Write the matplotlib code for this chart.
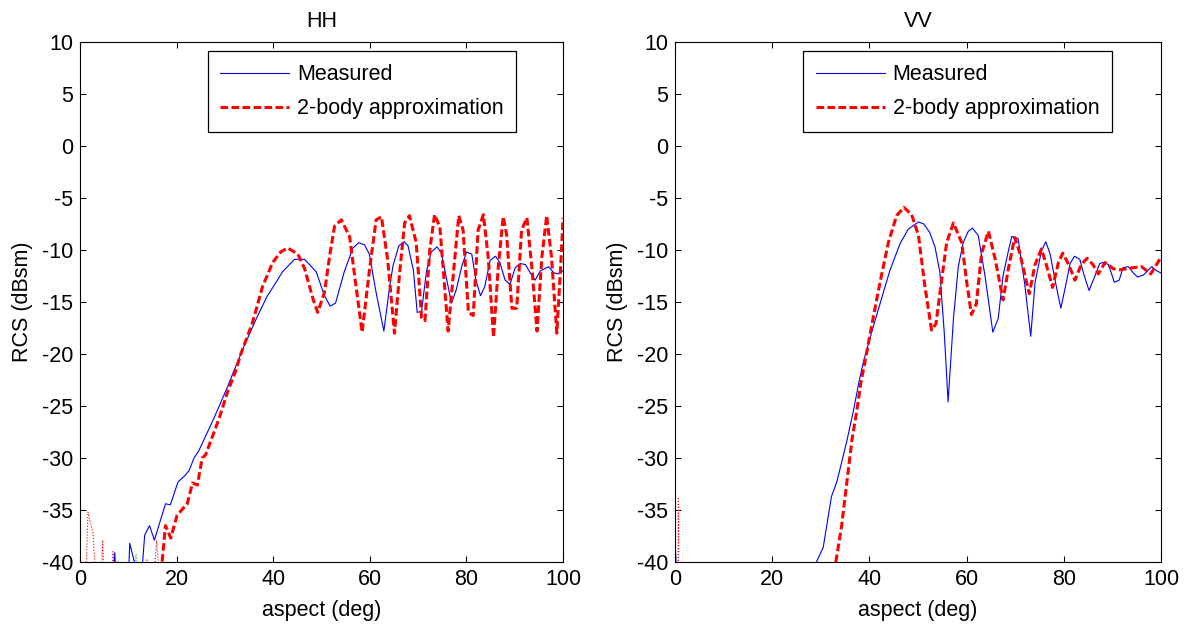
import numpy as np
import matplotlib
matplotlib.use("Agg")
import matplotlib.pyplot as plt

plt.rcParams["font.family"] = ["Liberation Sans", "DejaVu Sans"]
plt.rcParams["axes.unicode_minus"] = False

# ---- HH data ----
HH_MEAS_DEG = [6.9, 7.2, 7.5, 10.0, 10.3, 11.8, 12.8, 13.4, 14.4, 15.4, 17.7, 18.7,
               20.3, 21.7, 22.6, 23.6, 24.6, 26.0, 27.7, 30.5, 31.7, 34.0, 36.8,
               38.8, 40.6, 41.9, 44.4, 46.5, 48.9, 50.6, 51.8, 52.9, 54.7, 56.5,
               57.7, 58.9, 59.9, 61.3, 62.9, 64.1, 64.8, 66.0, 67.1, 67.9, 69.0,
               69.8, 70.7, 71.7, 72.7, 73.9, 74.8, 75.5, 76.9, 77.9, 79.0, 80.0,
               81.1, 81.9, 82.9, 83.8, 84.9, 86.0, 86.9, 88.0, 89.0, 90.1, 91.1,
               92.2, 93.2, 94.2, 95.3, 97.0, 98.1, 99.1, 100.0]
HH_MEAS_DB = [-42, -39.1, -42, -42, -38.2, -41, -41, -37.4, -36.5, -37.9, -34.4, -34.5,
              -32.3, -31.7, -31.2, -30.0, -29.3, -27.9, -26.2, -23.2, -21.8, -19.2, -16.3,
              -14.4, -13.1, -12.1, -10.9, -10.9, -12.1, -14.4, -15.4, -15.1, -12.1, -9.8,
              -9.3, -9.5, -10.4, -14.1, -17.8, -13.5, -11.5, -9.6, -9.2, -9.6, -11.9,
              -16.0, -15.9, -12.1, -10.2, -9.7, -10.3, -11.9, -15.1, -13.8, -11.6, -10.2,
              -10.4, -12.8, -14.4, -13.5, -11.0, -10.6, -11.2, -12.9, -13.3, -11.7, -11.3,
              -11.4, -12.2, -12.9, -12.0, -11.6, -12.2, -12.3, -12.0]

HH_APPROX_DEG = [16.5, 17.0, 17.7, 18.8, 20.1, 22.2, 23.3, 24.3, 25.3, 26.0, 28.8, 30.5,
                 32.1, 33.3, 35.7, 37.8, 39.9, 41.5, 43.0, 45.1, 46.5, 48.3, 49.2, 50.6,
                 51.7, 52.7, 54.1, 55.8, 57.0, 58.4, 59.9, 61.3, 62.4, 63.7, 65.1, 66.2,
                 67.2, 68.2, 69.6, 70.7, 71.4, 72.4, 73.4, 74.5, 76.2, 77.6, 78.4, 79.3,
                 80.4, 81.4, 82.4, 83.5, 84.5, 85.6, 86.6, 87.6, 88.3, 89.4, 90.4, 91.4,
                 92.5, 93.5, 94.6, 95.6, 96.6, 97.6, 98.7, 99.5, 100.0]
HH_APPROX_DB = [-41, -40, -36.5, -37.7, -35.5, -34.4, -32.4, -32.6, -30.0, -29.7, -26.2, -23.7,
                -21.8, -20.0, -17.0, -13.5, -11.2, -10.2, -9.8, -10.4, -11.8, -14.8, -16.0, -14.1,
                -10.5, -7.7, -7.1, -8.7, -13.0, -17.9, -12.0, -7.1, -6.8, -11.0, -18.0, -12.0,
                -7.4, -6.7, -9.3, -16.5, -16.8, -10.0, -6.6, -7.8, -17.8, -10.7, -6.7, -8.1,
                -16.0, -16.3, -8.1, -6.6, -10.7, -18.4, -11.5, -6.8, -8.5, -15.6, -15.6, -8.1,
                -6.9, -11.5, -17.8, -10.7, -6.7, -10.7, -18.0, -11.5, -6.9]

# low-level residue near the bottom of the HH panel
HH_DOT_RED_DEG = [1.2, 1.66, 2.7, 3.3, 4.4, 4.7, 5.0, 6.6, 6.85, 7.1, 13.6, 13.9, 14.2, 15.3, 15.85, 16.5]
HH_DOT_RED_DB = [-42, -35.2, -37.3, -42, -42, -37.9, -42, -42, -39.0, -42, -42, -39.8, -42, -42, -37.9, -42]
HH_DOT_GREEN_DEG = [7.6, 7.9, 8.2, 11.0, 11.6, 12.3]
HH_DOT_GREEN_DB = [-42, -39.9, -42, -42, -39.3, -42]

# ---- VV data ----
VV_MEAS_DEG = [0.0, 0.3, 28.9, 29.1, 30.5, 32.2, 33.3, 35.3, 36.7, 37.9, 38.8, 41.1,
               44.2, 46.3, 48.0, 50.1, 51.2, 52.4, 53.5, 54.5, 55.4, 56.2, 57.3, 58.3,
               59.3, 60.35, 61.2, 62.4, 63.8, 65.4, 66.5, 67.5, 68.6, 69.3, 70.6, 72.0,
               73.2, 74.1, 75.4, 76.3, 77.2, 78.2, 79.4, 80.4, 81.3, 82.2, 83.3, 84.1,
               85.2, 86.4, 87.4, 88.1, 89.2, 90.4, 91.4, 92.2, 93.3, 94.3, 95.2, 96.4,
               98.1, 99.1, 100.0]
VV_MEAS_DB = [-37.5, -41, -41, -40, -38.6, -33.7, -32.3, -28.5, -25.5, -22.6, -20.7, -16.9,
              -12.0, -9.4, -8.0, -7.3, -7.5, -8.3, -9.7, -12.1, -17.9, -24.6, -16.6, -11.6,
              -9.3, -8.2, -7.9, -8.6, -12.5, -17.9, -16.6, -12.5, -10.1, -8.7, -8.9, -13.4,
              -18.3, -13.1, -10.1, -9.2, -10.4, -12.9, -15.6, -13.4, -11.3, -10.6, -10.9, -12.3,
              -13.9, -12.5, -11.3, -11.2, -11.4, -13.1, -12.9, -11.7, -11.6, -12.2, -12.6, -12.4,
              -11.6, -12.0, -12.2]

VV_APPROX_DEG = [33.1, 34.3, 36.4, 37.4, 38.3, 39.0, 40.5, 42.2, 43.9, 45.6, 47.1, 48.7,
                 50.1, 51.4, 52.8, 53.7, 54.9, 55.9, 57.3, 59.0, 60.0, 61.0, 62.0, 63.1,
                 64.5, 65.9, 67.5, 68.6, 69.9, 70.9, 72.9, 74.1, 75.4, 76.4, 77.7, 78.9,
                 79.8, 81.0, 82.3, 83.6, 84.8, 86.0, 87.1, 88.5, 90.2, 91.6, 94.3, 96.0,
                 97.9, 100.0]
VV_APPROX_DB = [-40, -36.5, -28.3, -25.5, -22.6, -21.0, -17.2, -13.1, -9.3, -6.7, -5.9, -6.6,
                -8.6, -13.4, -17.7, -17.1, -12.8, -9.3, -7.4, -9.3, -13.0, -16.2, -15.2, -10.3,
                -8.2, -10.9, -14.8, -11.8, -8.8, -10.2, -14.2, -11.4, -9.9, -11.4, -13.6, -11.2,
                -10.3, -11.4, -12.9, -11.4, -10.8, -11.4, -12.3, -11.2, -11.8, -11.9, -11.7, -11.6,
                -12.3, -10.7]

VV_DOT_RED_DEG = [0.6, 0.7, 0.8]
VV_DOT_RED_DB = [-45, -33.9, -45]

X_TICKS = np.arange(0, 101, 20)
Y_TICKS = np.arange(-40, 11, 5)
FS = 15.5


def style_axes(ax, title):
    """ MATLAB-like box, inward ticks on all four sides """
    ax.set_xlim(0, 100)
    ax.set_ylim(-40, 10)
    ax.set_xticks(X_TICKS)
    ax.set_yticks(Y_TICKS)
    ax.tick_params(direction="in", top=True, right=True, length=4.5,
                   width=0.75, labelsize=FS, pad=5)
    for sp in ax.spines.values():
        sp.set_linewidth(0.8)
    ax.set_title(title, fontsize=FS, pad=11)
    ax.set_xlabel("aspect (deg)", fontsize=FS, labelpad=7)
    ax.set_ylabel("RCS (dBsm)", fontsize=FS, labelpad=6)
    leg = ax.legend(loc="upper left", bbox_to_anchor=(0.264, 0.982), fontsize=FS,
                    frameon=True, fancybox=False, framealpha=1, edgecolor="black",
                    handlelength=3.2, handletextpad=0.35, labelspacing=0.6,
                    borderpad=0.6, borderaxespad=0)
    leg.get_frame().set_linewidth(0.9)


fig = plt.figure(figsize=(11.9, 6.25), dpi=100)
ax1 = fig.add_axes([0.0672, 0.1008, 0.4060, 0.8320])
ax2 = fig.add_axes([0.5672, 0.1008, 0.4084, 0.8320])

# HH panel
ax1.plot(HH_DOT_RED_DEG, HH_DOT_RED_DB, color="red", ls=":", lw=0.8)
ax1.plot(HH_DOT_GREEN_DEG, HH_DOT_GREEN_DB, color=(0.2, 0.7, 0.2), ls=":", lw=0.8)
ax1.plot(HH_MEAS_DEG, HH_MEAS_DB, color="blue", lw=0.8, label="Measured")
ax1.plot(HH_APPROX_DEG, HH_APPROX_DB, color="red", ls="--", lw=2.2,
         dashes=(2.5, 1.1), label="2-body approximation")
style_axes(ax1, "HH")

# VV panel
ax2.plot(VV_DOT_RED_DEG, VV_DOT_RED_DB, color="red", ls=":", lw=0.8)
ax2.plot(VV_MEAS_DEG, VV_MEAS_DB, color="blue", lw=0.8, label="Measured")
ax2.plot(VV_APPROX_DEG, VV_APPROX_DB, color="red", ls="--", lw=2.2,
         dashes=(2.5, 1.1), label="2-body approximation")
style_axes(ax2, "VV")

fig.savefig("out.png", dpi=100)
